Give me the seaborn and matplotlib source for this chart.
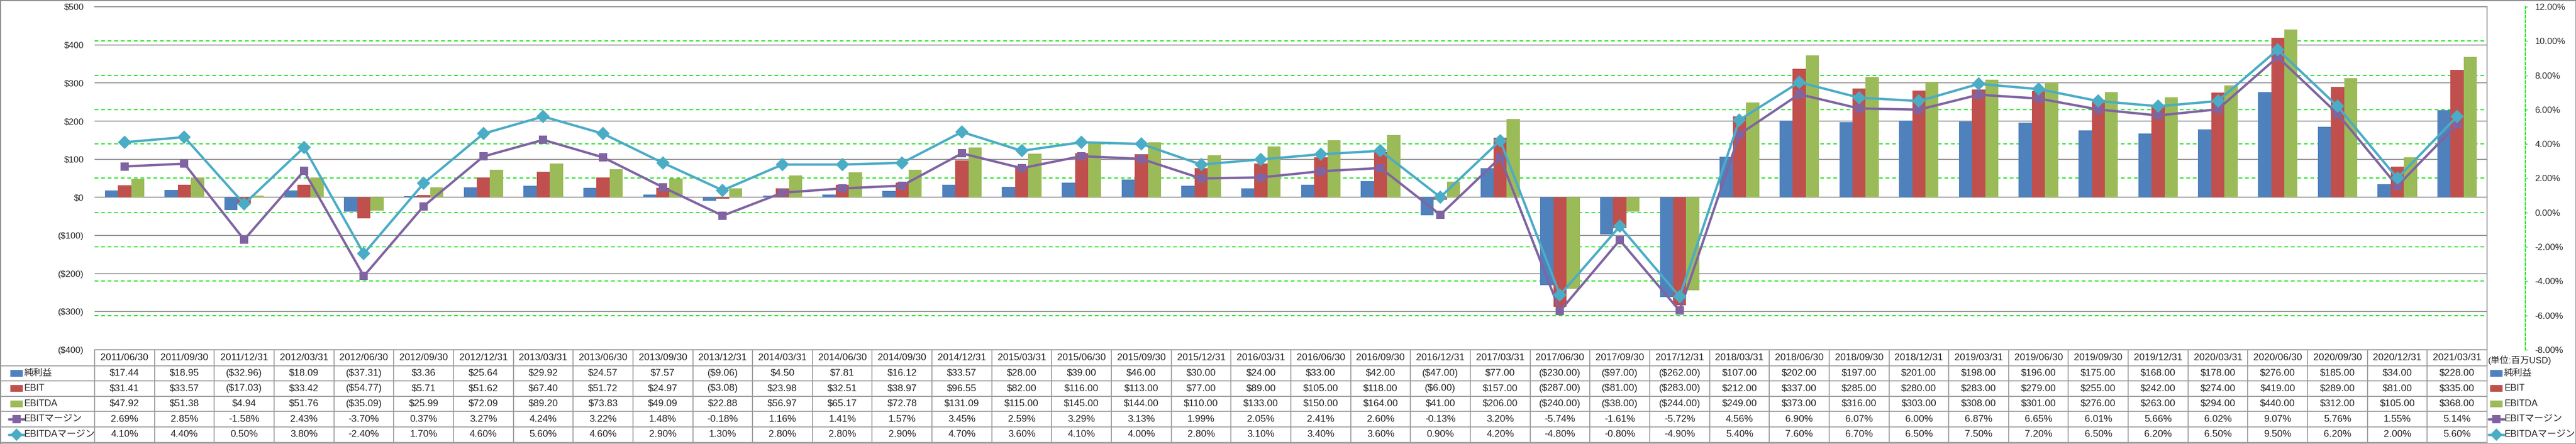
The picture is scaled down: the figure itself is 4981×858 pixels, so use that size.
import numpy as np
import pandas as pd
import matplotlib
matplotlib.use('Agg')
import matplotlib.pyplot as plt
import seaborn as sns
from matplotlib.transforms import blended_transform_factory
from matplotlib.lines import Line2D
from matplotlib.patches import Rectangle

# ---------------- data ----------------
dates = ['2011/06/30', '2011/09/30', '2011/12/31', '2012/03/31', '2012/06/30', '2012/09/30',
         '2012/12/31', '2013/03/31', '2013/06/30', '2013/09/30', '2013/12/31', '2014/03/31',
         '2014/06/30', '2014/09/30', '2014/12/31', '2015/03/31', '2015/06/30', '2015/09/30',
         '2015/12/31', '2016/03/31', '2016/06/30', '2016/09/30', '2016/12/31', '2017/03/31',
         '2017/06/30', '2017/09/30', '2017/12/31', '2018/03/31', '2018/06/30', '2018/09/30',
         '2018/12/31', '2019/03/31', '2019/06/30', '2019/09/30', '2019/12/31', '2020/03/31',
         '2020/06/30', '2020/09/30', '2020/12/31', '2021/03/31']
net_income = [17.44, 18.95, -32.96, 18.09, -37.31, 3.36, 25.64, 29.92, 24.57, 7.57,
              -9.06, 4.50, 7.81, 16.12, 33.57, 28.00, 39.00, 46.00, 30.00, 24.00,
              33.00, 42.00, -47.00, 77.00, -230.00, -97.00, -262.00, 107.00, 202.00, 197.00,
              201.00, 198.00, 196.00, 175.00, 168.00, 178.00, 276.00, 185.00, 34.00, 228.00]
ebit = [31.41, 33.57, -17.03, 33.42, -54.77, 5.71, 51.62, 67.40, 51.72, 24.97,
        -3.08, 23.98, 32.51, 38.97, 96.55, 82.00, 116.00, 113.00, 77.00, 89.00,
        105.00, 118.00, -6.00, 157.00, -287.00, -81.00, -283.00, 212.00, 337.00, 285.00,
        280.00, 283.00, 279.00, 255.00, 242.00, 274.00, 419.00, 289.00, 81.00, 335.00]
ebitda = [47.92, 51.38, 4.94, 51.76, -35.09, 25.99, 72.09, 89.20, 73.83, 49.09,
          22.88, 56.97, 65.17, 72.78, 131.09, 115.00, 145.00, 144.00, 110.00, 133.00,
          150.00, 164.00, 41.00, 206.00, -240.00, -38.00, -244.00, 249.00, 373.00, 316.00,
          303.00, 308.00, 301.00, 276.00, 263.00, 294.00, 440.00, 312.00, 105.00, 368.00]
ebit_margin = [2.69, 2.85, -1.58, 2.43, -3.70, 0.37, 3.27, 4.24, 3.22, 1.48,
               -0.18, 1.16, 1.41, 1.57, 3.45, 2.59, 3.29, 3.13, 1.99, 2.05,
               2.41, 2.60, -0.13, 3.20, -5.74, -1.61, -5.72, 4.56, 6.90, 6.07,
               6.00, 6.87, 6.65, 6.01, 5.66, 6.02, 9.07, 5.76, 1.55, 5.14]
ebitda_margin = [4.10, 4.40, 0.50, 3.80, -2.40, 1.70, 4.60, 5.60, 4.60, 2.90,
                 1.30, 2.80, 2.80, 2.90, 4.70, 3.60, 4.10, 4.00, 2.80, 3.10,
                 3.40, 3.60, 0.90, 4.20, -4.80, -0.80, -4.90, 5.40, 7.60, 6.70,
                 6.50, 7.50, 7.20, 6.50, 6.20, 6.50, 9.50, 6.20, 2.00, 5.60]
bar_names = ['純利益', 'EBIT', 'EBITDA']
margin_names = ['EBITマージン', 'EBITDAマージン']
usd_ticks = list(range(-400, 501, 100))
pct_ticks = list(range(-8, 13, 2))
unit_label = '(単位:百万USD)'

bar_colors = ['#4F81BD', '#C0504D', '#9BBB59']
line_colors = ['#8064A2', '#4BACC6']
line_markers = ['s', 'D']
marker_sizes = [12, 13.5]
GRAY = '#8C8C8C'
TGRAY = '#999999'
GREEN = '#00E000'

# ---------------- figure ----------------
W, H, DPI = 4981, 858, 100
sns.set_style('white')
plt.rcParams['font.family'] = ['Liberation Sans', 'Noto Sans CJK JP', 'DejaVu Sans']
TXT_FAM = ['Liberation Sans', 'Noto Sans CJK JP', 'DejaVu Sans']
AX_FAM = ['DejaVu Sans']

fig = plt.figure(figsize=(W / DPI, H / DPI), dpi=DPI)
fig.patch.set_facecolor('white')
fig.patch.set_edgecolor(GRAY)
fig.patch.set_linewidth(2)


def fx(px):
    return px / W


def fy(py):
    return 1 - py / H


L, R, T, B = 183, 4809, 13, 676
pos = [fx(L), fy(B), fx(R) - fx(L), fy(T) - fy(B)]

# green dashed grid (secondary scale) behind everything
ax_g = fig.add_axes(pos, zorder=-1)
ax_g.set_ylim(pct_ticks[0], pct_ticks[-1])
ax_g.set_yticks(pct_ticks)
ax_g.set_xticks([])
ax_g.yaxis.grid(True, color=GREEN, linestyle=(0, (4, 3)), linewidth=1.3)
ax_g.tick_params(left=False, labelleft=False, bottom=False, labelbottom=False)
for s in ax_g.spines.values():
    s.set_visible(False)

# bars
ax = fig.add_axes(pos, zorder=0)
ax.patch.set_visible(False)
df = pd.DataFrame({
    'date': dates * 3,
    'value': net_income + ebit + ebitda,
    'series': [n for n in bar_names for _ in dates],
})
sns.barplot(data=df, x='date', y='value', hue='series', order=dates, hue_order=bar_names,
            palette=bar_colors, width=0.66, saturation=1, errorbar=None, legend=False,
            ax=ax, linewidth=0, zorder=2)
ax.set_xlim(-0.5, len(dates) - 0.5)
ax.set_ylim(usd_ticks[0], usd_ticks[-1])
ax.set_yticks(usd_ticks)
ax.set_yticklabels([('$%d' % v) if v >= 0 else ('($%d)' % -v) for v in usd_ticks])
ax.yaxis.tick_right()
ax.tick_params(axis='y', left=False, labelleft=False, right=False, labelright=True,
               length=0, pad=15, labelsize=12.5)
ax.tick_params(axis='x', bottom=False, labelbottom=False)
for lab, v in zip(ax.get_yticklabels(), usd_ticks):
    lab.set_color('#FF0000' if v < 0 else 'black')
    lab.set_family(AX_FAM)
ax.yaxis.grid(True, color=GRAY, linewidth=1.3)
ax.set_axisbelow(True)
ax.set_xlabel('')
ax.set_ylabel('')
ax.spines['left'].set_visible(False)
for k in ['top', 'right', 'bottom']:
    ax.spines[k].set_color(GRAY)
    ax.spines[k].set_linewidth(1.3)

# margin lines
ax2 = ax.twinx()
idx = np.arange(len(dates))
for vals, col, mk, ms in [(ebit_margin, line_colors[0], line_markers[0], marker_sizes[0]),
                          (ebitda_margin, line_colors[1], line_markers[1], marker_sizes[1])]:
    sns.lineplot(x=idx, y=vals, ax=ax2, color=col, linewidth=3.3, marker=mk,
                 markersize=ms, markeredgewidth=0, zorder=3)
ax2.set_xlim(-0.5, len(dates) - 0.5)
ax2.set_ylim(pct_ticks[0], pct_ticks[-1])
ax2.set_yticks(pct_ticks)
ax2.set_yticklabels(['%.2f%%' % v for v in pct_ticks])
for lab, v in zip(ax2.get_yticklabels(), pct_ticks):
    lab.set_color('#FF0000' if v < 0 else 'black')
    lab.set_family(AX_FAM)
ax2.tick_params(axis='y', length=3, width=1, color=GREEN, direction='out', pad=10,
                labelsize=12.5)
ax2.set_xlabel('')
ax2.set_ylabel('')
for k in ['left', 'top', 'bottom']:
    ax2.spines[k].set_visible(False)
ax2.spines['right'].set_position(('outward', 53.5))
ax2.spines['right'].set_color(GREEN)
ax2.spines['right'].set_linestyle((0, (3, 2)))
ax2.spines['right'].set_linewidth(1.3)

# ---------------- data table ----------------
trans = blended_transform_factory(ax.transData, fig.transFigure)
row_lines = [706.5, 736.1, 765.7, 795.3, 824.9, 854.5]
row_centers = [(row_lines[i] + row_lines[i + 1]) / 2 for i in range(5)]
date_center = 691.5
FS = 13.5

for i, d in enumerate(dates):
    fig.text(i, fy(date_center), d, transform=trans, ha='center', va='center',
             fontsize=FS, family=TXT_FAM)


def fmt_usd(v):
    return ('$%.2f' % v) if v >= 0 else ('($%.2f)' % -v)


table_rows = [[fmt_usd(v) for v in net_income],
              [fmt_usd(v) for v in ebit],
              [fmt_usd(v) for v in ebitda],
              ['%.2f%%' % v for v in ebit_margin],
              ['%.2f%%' % v for v in ebitda_margin]]
for r, row in enumerate(table_rows):
    for i, s in enumerate(row):
        fig.text(i, fy(row_centers[r]), s, transform=trans, ha='center', va='center',
                 fontsize=FS, family=TXT_FAM)

# table grid
for y in row_lines:
    fig.add_artist(Line2D([0, fx(R)], [fy(y), fy(y)], color=TGRAY, linewidth=1.3))
for k in range(len(dates) + 1):
    x = k - 0.5
    fig.add_artist(Line2D([x, x], [fy(B), fy(row_lines[-1])], transform=trans,
                          color=TGRAY, linewidth=1.3))


# legend keys (left column and right side)
def draw_key(x0, yc, r):
    if r < 3:
        fig.add_artist(Rectangle((fx(x0), fy(yc + 6.5)), fx(24), 13 / H,
                                 facecolor=bar_colors[r], edgecolor='none'))
    else:
        c = line_colors[r - 3]
        fig.add_artist(Line2D([fx(x0 - 3), fx(x0 + 27)], [fy(yc), fy(yc)], color=c,
                              linewidth=3.3))
        fig.add_artist(Line2D([fx(x0 + 12)], [fy(yc)], color=c, marker=line_markers[r - 3],
                              markersize=marker_sizes[r - 3] - 1, markeredgewidth=0))


all_names = bar_names + margin_names
for r, name in enumerate(all_names):
    yc = row_centers[r]
    draw_key(20, yc, r)
    fig.text(fx(47), fy(yc), name, ha='left', va='center', fontsize=FS - 0.5, family=TXT_FAM)
    draw_key(4815, yc, r)
    fig.text(fx(4842), fy(yc), name, ha='left', va='center', fontsize=FS - 0.5, family=TXT_FAM)

fig.text(fx(4811), fy(date_center + 4), unit_label, ha='left', va='center',
         fontsize=12.5, family=TXT_FAM)

fig.savefig('out.png', dpi=DPI, facecolor='white', edgecolor=GRAY)
